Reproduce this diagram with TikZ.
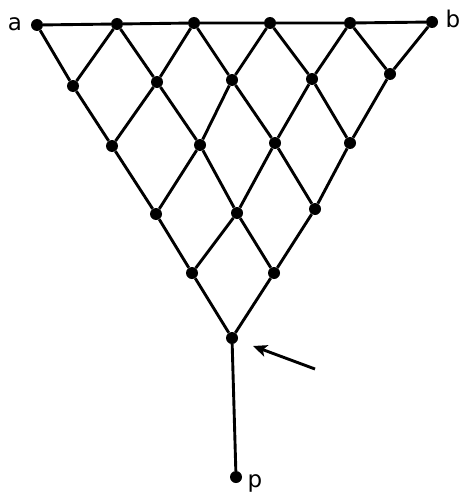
\documentclass[tikz,border=0pt]{standalone}
\usepackage{fontspec}
\setmainfont{DejaVu Sans}
\usetikzlibrary{arrows.meta}
\begin{document}
\begin{tikzpicture}[x=1pt,y=-1pt,
  dot/.style={circle,fill=black,inner sep=0pt,minimum size=12pt},
  edge/.style={line width=2.9pt,black},
  lbl/.style={font=\fontsize{23}{27}\selectfont,anchor=base,inner sep=0pt},
  pointer/.style={line width=2.9pt,-{Stealth[length=14pt,width=12pt,inset=3.5pt]}}]
\useasboundingbox (0,0) rectangle (463,495);
% row 0 (top)
\node[dot] (t0) at (37,25) {};
\node[dot] (t1) at (117,24) {};
\node[dot] (t2) at (194,23) {};
\node[dot] (t3) at (270,23) {};
\node[dot] (t4) at (350,23) {};
\node[dot] (t5) at (432,22) {};
% row 1
\node[dot] (u0) at (73,86) {};
\node[dot] (u1) at (157,82) {};
\node[dot] (u2) at (232,80) {};
\node[dot] (u3) at (312,79) {};
\node[dot] (u4) at (390,74) {};
% row 2
\node[dot] (v0) at (112,146) {};
\node[dot] (v1) at (200,145) {};
\node[dot] (v2) at (275,143) {};
\node[dot] (v3) at (350,143) {};
% row 3
\node[dot] (w0) at (156,214) {};
\node[dot] (w1) at (237,213) {};
\node[dot] (w2) at (315,209) {};
% row 4
\node[dot] (x0) at (192,273) {};
\node[dot] (x1) at (274,273) {};
% row 5
\node[dot] (y0) at (232,338) {};
% bottom
\node[dot] (p) at (236,477) {};
% labels
\node[lbl] (la) at (15,31) {a};
\node[lbl] (lb) at (453,28) {b};
\node[lbl] (lp) at (255,487) {p};
% arrow start/target
\coordinate (as) at (315,369);
\coordinate (ae) at (253,346);
% top line
\draw[edge] (t0) -- (t1) -- (t2) -- (t3) -- (t4) -- (t5);
% lattice
\foreach \i [evaluate=\i as \j using int(\i+1)] in {0,...,4} {
  \draw[edge] (t\i) -- (u\i) -- (t\j);
}
\foreach \i [evaluate=\i as \j using int(\i+1)] in {0,...,3} {
  \draw[edge] (u\i) -- (v\i) -- (u\j);
}
\foreach \i [evaluate=\i as \j using int(\i+1)] in {0,...,2} {
  \draw[edge] (v\i) -- (w\i) -- (v\j);
}
\foreach \i [evaluate=\i as \j using int(\i+1)] in {0,...,1} {
  \draw[edge] (w\i) -- (x\i) -- (w\j);
}
\draw[edge] (x0) -- (y0) -- (x1);
\draw[edge] (y0) -- (p);
\draw[pointer] (as) -- (ae);
\end{tikzpicture}
\end{document}
